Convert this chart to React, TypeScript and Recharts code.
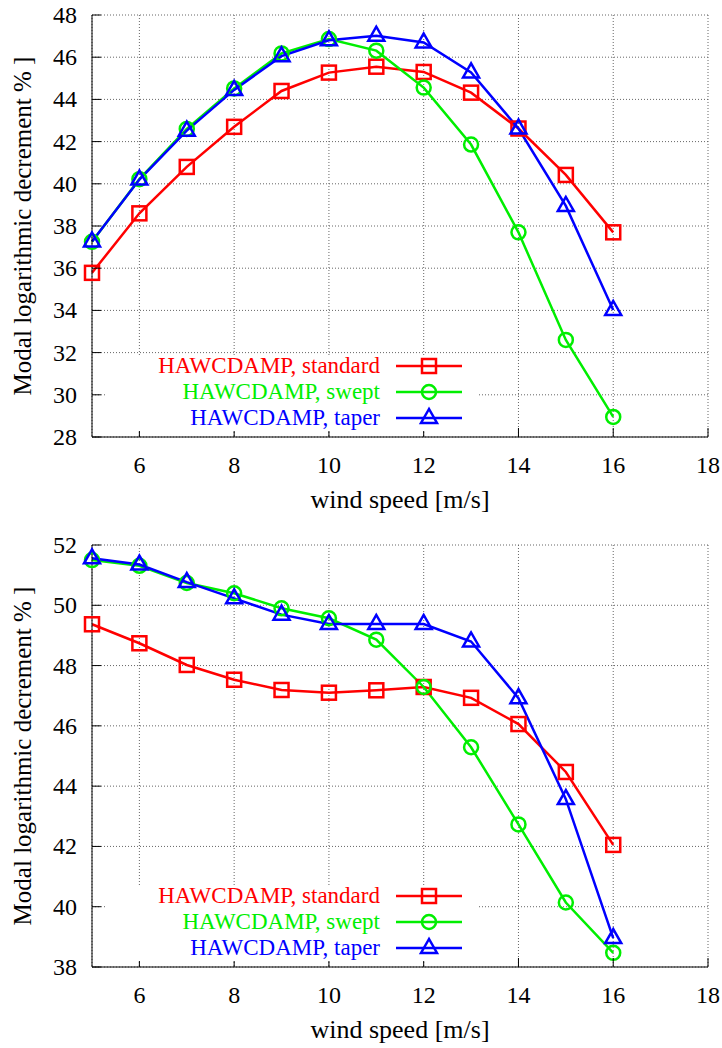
import React from 'react';
import { LineChart, Line, XAxis, YAxis, CartesianGrid } from 'recharts';

const SPEED = [5, 6, 7, 8, 9, 10, 11, 12, 13, 14, 15, 16];

const TOP_STANDARD = [35.78, 38.6, 40.8, 42.7, 44.4, 45.27, 45.55, 45.3, 44.32, 42.62, 40.42, 37.7];
const TOP_SWEPT = [37.25, 40.22, 42.6, 44.52, 46.18, 46.86, 46.31, 44.56, 41.86, 37.7, 32.6, 28.95];
const TOP_TAPER = [37.27, 40.2, 42.52, 44.45, 46.05, 46.8, 47.02, 46.7, 45.28, 42.62, 38.95, 34.02];

const BOTTOM_STANDARD = [49.37, 48.74, 48.02, 47.53, 47.19, 47.1, 47.18, 47.29, 46.93, 46.06, 44.47, 42.05];
const BOTTOM_SWEPT = [51.5, 51.31, 50.74, 50.4, 49.9, 49.57, 48.86, 47.29, 45.29, 42.73, 40.14, 38.47];
const BOTTOM_TAPER = [51.56, 51.35, 50.77, 50.23, 49.69, 49.38, 49.38, 49.38, 48.8, 46.92, 43.57, 38.96];

const X_TICKS = [6, 8, 10, 12, 14, 16, 18];
const TOP_Y_TICKS = [28, 30, 32, 34, 36, 38, 40, 42, 44, 46, 48];
const BOTTOM_Y_TICKS = [38, 40, 42, 44, 46, 48, 50, 52];

const SERIES_NAMES = ['HAWCDAMP, standard', 'HAWCDAMP, swept', 'HAWCDAMP, taper'];
const X_LABEL = 'wind speed [m/s]';
const Y_LABEL = 'Modal logarithmic decrement % ]';

const RED = '#ff0000';
const GREEN = '#00ee00';
const BLUE = '#0000ff';
const FONT = '"Liberation Serif", "Times New Roman", serif';
const GRID = '#666666';

const SquareMark = ({ cx, cy, color }: any) => (
    <rect x={cx - 7} y={cy - 7} width={14} height={14} fill="none" stroke={color} strokeWidth={2.5} />
);

const CircleMark = ({ cx, cy, color }: any) => (
    <circle cx={cx} cy={cy} r={7} fill="none" stroke={color} strokeWidth={2.5} />
);

const TriangleMark = ({ cx, cy, color }: any) => (
    <polygon
        points={`${cx},${cy - 9} ${cx - 8},${cy + 5} ${cx + 8},${cy + 5}`}
        fill="none"
        stroke={color}
        strokeWidth={2.5}
    />
);

const BottomTick = ({ x, y, payload }: any) => (
    <g>
        <line x1={x} y1={y} x2={x} y2={y - 9} stroke="#000" />
        <text x={x} y={y + 36} textAnchor="middle" fontSize={24} fontFamily={FONT} fill="#000">
            {payload.value}
        </text>
    </g>
);

const TopTick = ({ x, y }: any) => <line x1={x} y1={y} x2={x} y2={y + 9} stroke="#000" />;

const LeftTick = ({ x, y, payload }: any) => (
    <g>
        <line x1={x} y1={y} x2={x + 9} y2={y} stroke="#000" />
        <text x={x - 15} y={y + 8} textAnchor="end" fontSize={24} fontFamily={FONT} fill="#000">
            {payload.value}
        </text>
    </g>
);

const RightTick = ({ x, y }: any) => <line x1={x} y1={y} x2={x - 9} y2={y} stroke="#000" />;

const LEGEND_ROWS = [366, 392, 418];
const LEGEND_COLORS = [RED, GREEN, BLUE];
const LEGEND_MARKS = [SquareMark, CircleMark, TriangleMark];

const KeyBox = () => (
    <svg width={722} height={524} style={{ position: 'absolute', left: 0, top: 0, pointerEvents: 'none' }}>
        <rect x={106} y={355} width={371} height={76} fill="#fff" />
        {SERIES_NAMES.map((name, i) => {
            const Mark = LEGEND_MARKS[i];
            const y = LEGEND_ROWS[i];
            return (
                <g key={name}>
                    <text x={380} y={y + 7} textAnchor="end" fontSize={23} fontFamily={FONT} fill={LEGEND_COLORS[i]}>
                        {name}
                    </text>
                    <line x1={396} y1={y} x2={462} y2={y} stroke={LEGEND_COLORS[i]} strokeWidth={2.5} />
                    <Mark cx={429} cy={y} color={LEGEND_COLORS[i]} />
                </g>
            );
        })}
    </svg>
);

interface PanelProps {
    top: number;
    standard: number[];
    swept: number[];
    taper: number[];
    yTicks: number[];
}

const DampingPanel = ({ top, standard, swept, taper, yTicks }: PanelProps) => {
    const rows = SPEED.map((ws, i) => ({ ws, standard: standard[i], swept: swept[i], taper: taper[i] }));
    const yDomain = [yTicks[0], yTicks[yTicks.length - 1]];

    return (
        <div style={{ position: 'absolute', left: 0, top, width: 722, height: 524 }}>
            <LineChart width={722} height={524} data={rows} margin={{ top: 15, right: 14, left: 0, bottom: 0 }}>
                <CartesianGrid stroke={GRID} strokeDasharray="1 2" />
                <XAxis
                    type="number"
                    dataKey="ws"
                    domain={[5, 18]}
                    ticks={X_TICKS}
                    interval={0}
                    height={87}
                    tickSize={0}
                    tickMargin={0}
                    tickLine={false}
                    axisLine={{ stroke: '#000' }}
                    tick={<BottomTick />}
                    label={{ value: X_LABEL, position: 'insideBottom', offset: 16, fontSize: 26, fontFamily: FONT, fill: '#000' }}
                />
                <XAxis
                    xAxisId="mirror"
                    orientation="top"
                    type="number"
                    domain={[5, 18]}
                    ticks={X_TICKS}
                    interval={0}
                    height={0}
                    tickSize={0}
                    tickMargin={0}
                    tickLine={false}
                    axisLine={{ stroke: '#000' }}
                    tick={<TopTick />}
                />
                <YAxis
                    type="number"
                    domain={yDomain}
                    ticks={yTicks}
                    interval={0}
                    width={92}
                    tickSize={0}
                    tickMargin={0}
                    tickLine={false}
                    axisLine={{ stroke: '#000' }}
                    tick={<LeftTick />}
                    label={{
                        value: Y_LABEL,
                        angle: -90,
                        position: 'insideLeft',
                        offset: 22,
                        fontSize: 25,
                        fontFamily: FONT,
                        fill: '#000',
                        style: { textAnchor: 'middle' },
                    }}
                />
                <YAxis
                    yAxisId="mirror"
                    orientation="right"
                    type="number"
                    domain={yDomain}
                    ticks={yTicks}
                    interval={0}
                    width={0}
                    tickSize={0}
                    tickMargin={0}
                    tickLine={false}
                    axisLine={{ stroke: '#000' }}
                    tick={<RightTick />}
                />
                <Line
                    type="linear"
                    dataKey="standard"
                    stroke={RED}
                    strokeWidth={2.5}
                    isAnimationActive={false}
                    dot={(p: any) => <SquareMark key={`s${p.index}`} cx={p.cx} cy={p.cy} color={RED} />}
                />
                <Line
                    type="linear"
                    dataKey="swept"
                    stroke={GREEN}
                    strokeWidth={2.5}
                    isAnimationActive={false}
                    dot={(p: any) => <CircleMark key={`w${p.index}`} cx={p.cx} cy={p.cy} color={GREEN} />}
                />
                <Line
                    type="linear"
                    dataKey="taper"
                    stroke={BLUE}
                    strokeWidth={2.5}
                    isAnimationActive={false}
                    dot={(p: any) => <TriangleMark key={`t${p.index}`} cx={p.cx} cy={p.cy} color={BLUE} />}
                />
            </LineChart>
            <KeyBox />
        </div>
    );
};

export default function App() {
    return (
        <div style={{ position: 'absolute', left: 0, top: 0, width: 722, height: 1048, overflow: 'hidden', background: '#fff' }}>
            <DampingPanel top={0} standard={TOP_STANDARD} swept={TOP_SWEPT} taper={TOP_TAPER} yTicks={TOP_Y_TICKS} />
            <DampingPanel top={530} standard={BOTTOM_STANDARD} swept={BOTTOM_SWEPT} taper={BOTTOM_TAPER} yTicks={BOTTOM_Y_TICKS} />
        </div>
    );
}
